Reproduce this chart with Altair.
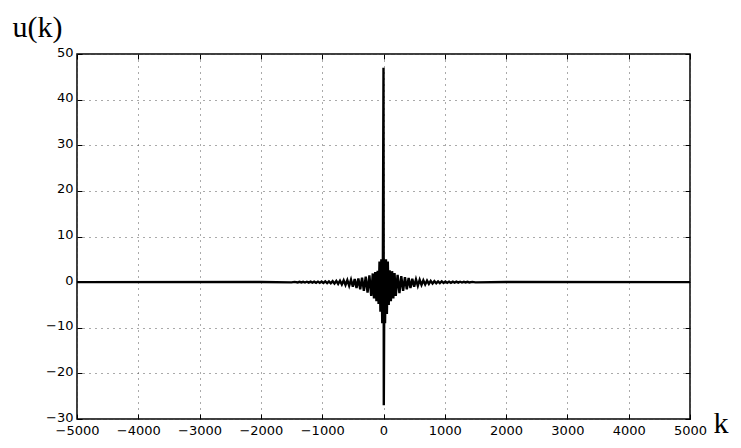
import altair as alt
import pandas as pd

# sample positions k and values u(k)
k_values = [
    -5000, -2000, -1500, -1450, -1400, -1370, -1340, -1310, -1280, -1250,
    -1220, -1190, -1160, -1130, -1100, -1070, -1040, -1010, -980, -950,
    -920, -890, -860, -830, -800, -770, -740, -710, -680, -650,
    -620, -590, -560, -530, -500, -470, -440, -410, -380, -350,
    -320, -290, -260, -230, -200, -175, -155, -135, -115, -95,
    -80, -65, -50, -35, -20, -10, 0, 5, 15, 25,
    40, 55, 70, 85, 100, 120, 140, 160, 180, 200,
    230, 260, 290, 320, 350, 380, 410, 440, 470, 500,
    530, 560, 590, 620, 650, 680, 710, 740, 770, 800,
    830, 860, 890, 920, 950, 980, 1010, 1040, 1070, 1100,
    1130, 1160, 1190, 1220, 1250, 1280, 1310, 1340, 1370, 1400,
    1450, 1500, 2000, 5000,
]
u_values = [
    0.0, 0.02, -0.05, 0.05, -0.07, 0.06, -0.08, 0.07, -0.09, 0.08,
    -0.1, 0.09, -0.12, 0.1, -0.14, 0.12, -0.16, 0.13, -0.18, 0.15,
    -0.22, 0.17, -0.26, 0.2, -0.32, 0.25, -0.4, 0.3, -0.5, 0.38,
    -0.62, 0.45, -0.8, 0.55, -1.0, 0.68, -1.3, 0.8, -1.6, 1.0,
    -1.9, 1.2, -2.3, 1.5, -3.0, 1.9, -3.6, 2.2, -4.2, 2.5,
    -4.8, 4.5, -6.5, 5.0, -9.0, 5.0, 47.0, -27.0, 5.0, -9.0,
    5.0, -7.0, 4.5, -5.0, 2.6, -4.2, 2.4, -3.6, 2.0, -3.0,
    1.6, -2.4, 1.3, -1.9, 1.1, -1.6, 0.9, -1.3, 0.72, -1.0,
    0.6, -0.8, 0.5, -0.62, 0.4, -0.5, 0.32, -0.4, 0.26, -0.32,
    0.2, -0.26, 0.17, -0.22, 0.15, -0.18, 0.13, -0.16, 0.11, -0.14,
    0.1, -0.12, 0.09, -0.1, 0.08, -0.09, 0.07, -0.08, 0.06, -0.07,
    0.05, -0.05, 0.02, 0.0,
]
x_ticks = [-5000, -4000, -3000, -2000, -1000, 0, 1000, 2000, 3000, 4000, 5000]
y_ticks = [-30, -20, -10, 0, 10, 20, 30, 40, 50]

df = pd.DataFrame({"k": k_values, "u": u_values})

W, H = 613, 365
xs = alt.Scale(domain=[-5000, 5000], nice=False, zero=False)
ys = alt.Scale(domain=[-30, 50], nice=False, zero=False)

LABEL_FONT = "DejaVu Sans"
TITLE_FONT = "Liberation Serif"

base_axis = dict(
    domain=False,
    tickSize=5,
    tickColor="black",
    tickWidth=1,
    offset=-5,
    labelFont=LABEL_FONT,
    labelFontSize=13,
    labelColor="black",
    labelFlush=False,
    labelOverlap=False,
    format="d",
)
grid_style = dict(grid=True, gridDash=[1, 5], gridColor="#555555", gridWidth=1)

line = alt.Chart(df).mark_line(color="black", strokeWidth=2.4).encode(
    x=alt.X(
        "k:Q",
        scale=xs,
        axis=alt.Axis(
            orient="bottom",
            values=x_ticks,
            labelPadding=5,
            title="k",
            titleX=636,
            titleY=18,
            titleAlign="left",
            titleBaseline="alphabetic",
            titleFont=TITLE_FONT,
            titleFontSize=30,
            titleFontWeight="normal",
            titleColor="black",
            **grid_style,
            **base_axis,
        ),
    ),
    y=alt.Y(
        "u:Q",
        scale=ys,
        axis=alt.Axis(
            orient="left",
            values=y_ticks,
            labelPadding=4,
            labelOffset=-2,
            title="u(k)",
            titleAngle=0,
            titleX=-70,
            titleY=-18,
            titleAlign="left",
            titleBaseline="alphabetic",
            titleFont=TITLE_FONT,
            titleFontSize=30,
            titleFontWeight="normal",
            titleColor="black",
            **grid_style,
            **base_axis,
        ),
    ),
)

frame = alt.Chart(df).mark_point(opacity=0).encode(
    x=alt.X(
        "k:Q",
        scale=xs,
        axis=alt.Axis(orient="top", values=x_ticks, labels=False, title="", grid=False, **base_axis),
    ),
    y=alt.Y(
        "u:Q",
        scale=ys,
        axis=alt.Axis(orient="right", values=y_ticks, labels=False, title="", grid=False, **base_axis),
    ),
)

chart = (
    alt.layer(line, frame)
    .resolve_scale(x="independent", y="independent")
    .properties(
        width=W,
        height=H,
        padding={"left": 69, "top": 46, "right": 43, "bottom": 22},
        autosize=alt.AutoSizeParams(type="none"),
        background="white",
    )
    .configure_view(stroke="black", strokeWidth=1.5)
)

chart.save("out.html", embed_options={"renderer": "svg", "actions": False})
